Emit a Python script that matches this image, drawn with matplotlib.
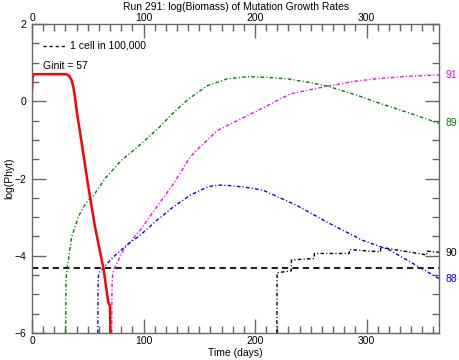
import matplotlib
matplotlib.use("Agg")
import matplotlib.pyplot as plt
from matplotlib.ticker import MultipleLocator, FixedLocator

plt.rcParams['font.family'] = ['Liberation Sans', 'DejaVu Sans']

# ---- data ----
red_days = [0, 0.5, 1.5, 10, 20, 29.6, 31.5, 33.5, 35.5, 37, 38.5, 40, 44.6, 50.5, 56.5, 62.5, 64, 68.5, 70, 70.3]
red_vals = [0.29, 0.6, 0.70, 0.70, 0.70, 0.70, 0.69, 0.65, 0.55, 0.38, 0.12, -0.23, -1.09, -2.21, -3.25, -4.11, -4.31, -5.22, -5.3, -6.0]

g89_days = [30.2, 30.5, 31.5, 32.6, 35.6, 41.6, 46, 50.5, 55, 65.5, 80.5, 94, 101, 115, 127, 140, 157, 175, 193, 210, 229, 250, 265, 290, 311.5, 340, 365]
g89_vals = [-6.0, -4.6, -4.3, -4.11, -3.51, -2.99, -2.75, -2.56, -2.45, -2.0, -1.52, -1.2, -1.02, -0.65, -0.29, 0.05, 0.40, 0.58, 0.635, 0.62, 0.58, 0.48, 0.39, 0.17, -0.05, -0.32, -0.57]

m91_days = [71.5, 71.8, 72.4, 74.5, 82, 97, 112, 127, 142, 148, 166, 187, 208, 231.6, 265, 290, 311.5, 340, 365]
m91_vals = [-6.0, -4.7, -4.45, -4.29, -3.85, -3.34, -2.73, -2.13, -1.44, -1.26, -0.76, -0.46, -0.16, 0.19, 0.39, 0.52, 0.59, 0.65, 0.68]

b88_days = [59, 59.3, 60, 73, 85, 97, 112, 127, 142, 158, 168, 175.5, 190, 207, 237, 266.5, 296.5, 320.5, 344, 365]
b88_vals = [-6.0, -4.6, -4.44, -4.03, -3.72, -3.47, -3.08, -2.73, -2.43, -2.21, -2.17, -2.18, -2.22, -2.30, -2.69, -3.16, -3.60, -3.85, -4.24, -4.59]

k90_days = [219.6, 219.8, 232.5, 232.7, 253, 253.2, 284.5, 284.7, 312.5, 312.7, 354, 354.2, 365]
k90_vals = [-6.0, -4.44, -4.39, -4.11, -4.07, -3.94, -3.94, -3.84, -3.90, -3.78, -3.98, -3.88, -3.91]

threshold = -4.31

x_ticks = [0, 100, 200, 300]

right_labels = [("91", 0.68, "#ff00ff"), ("89", -0.57, "#007f00"),
                ("90", -3.93, "black"), ("88", -4.59, "#0000ff")]

title = "Run 291: log(Biomass) of Mutation Growth Rates"

# ---- figure ----
fig = plt.figure(figsize=(4.59, 3.60), dpi=100)
ax = fig.add_axes([32/459, 27/360, 407/459, 309/360])

dd = (2.6, 1.6, 0.8, 1.6)
ax.plot(g89_days, g89_vals, color="#007f00", lw=1.0, dashes=dd)
ax.plot(m91_days, m91_vals, color="#ff00ff", lw=1.0, dashes=dd)
ax.plot(b88_days, b88_vals, color="#0000ff", lw=1.0, dashes=dd)
ax.plot(k90_days, k90_vals, color="black", lw=1.0, dashes=dd)
ax.axhline(threshold, color="#222222", lw=1.5, dashes=(3, 2))
ax.plot(red_days, red_vals, color="#ff0000", lw=1.8, solid_joinstyle="round")

ax.set_xlim(0, 365)
ax.set_ylim(-6, 2)
ax.xaxis.set_major_locator(FixedLocator(x_ticks))
ax.xaxis.set_minor_locator(MultipleLocator(10))
ax.yaxis.set_major_locator(MultipleLocator(2))
ax.yaxis.set_minor_locator(MultipleLocator(0.5))

sc = "#666666"
for s in ax.spines.values():
    s.set_color(sc)
    s.set_linewidth(1.0)
ax.tick_params(which="both", direction="in", top=True, right=True, labeltop=False,
               color=sc, labelsize=7.5, width=1.0)
ax.tick_params(which="major", length=10)
ax.tick_params(which="minor", length=5)
ax.tick_params(axis="x", pad=2.5)
ax.tick_params(axis="y", pad=4)

# top labels via secondary axis (own padding)
sec = ax.secondary_xaxis("top")
sec.set_xticks(x_ticks)
sec.xaxis.set_minor_locator(FixedLocator([]))
sec.tick_params(which="both", length=0, labelsize=7.5, pad=1.0)
sec.spines["top"].set_visible(False)

ax.set_xlabel("Time (days)", fontsize=7.5, labelpad=1)
ax.set_ylabel("log(Phyt)", fontsize=7.5, labelpad=0)
fig.text(0.515, 0.981, title, ha="center", va="center", fontsize=7.5)

# legend-like annotations
ax.plot([0.027, 0.087], [0.929, 0.929], transform=ax.transAxes, color="black",
        lw=1.0, dashes=(2.2, 2.2))
ax.text(0.093, 0.929, "1 cell in 100,000", transform=ax.transAxes,
        fontsize=7.5, va="center", ha="left")
ax.text(0.027, 0.864, "Ginit = 57", transform=ax.transAxes,
        fontsize=7.5, va="center", ha="left")

for lab, yv, col in right_labels:
    ax.text(371, yv, lab, color=col, fontsize=7.5, ha="left", va="center",
            clip_on=False)

fig.savefig("out.png", dpi=100)
